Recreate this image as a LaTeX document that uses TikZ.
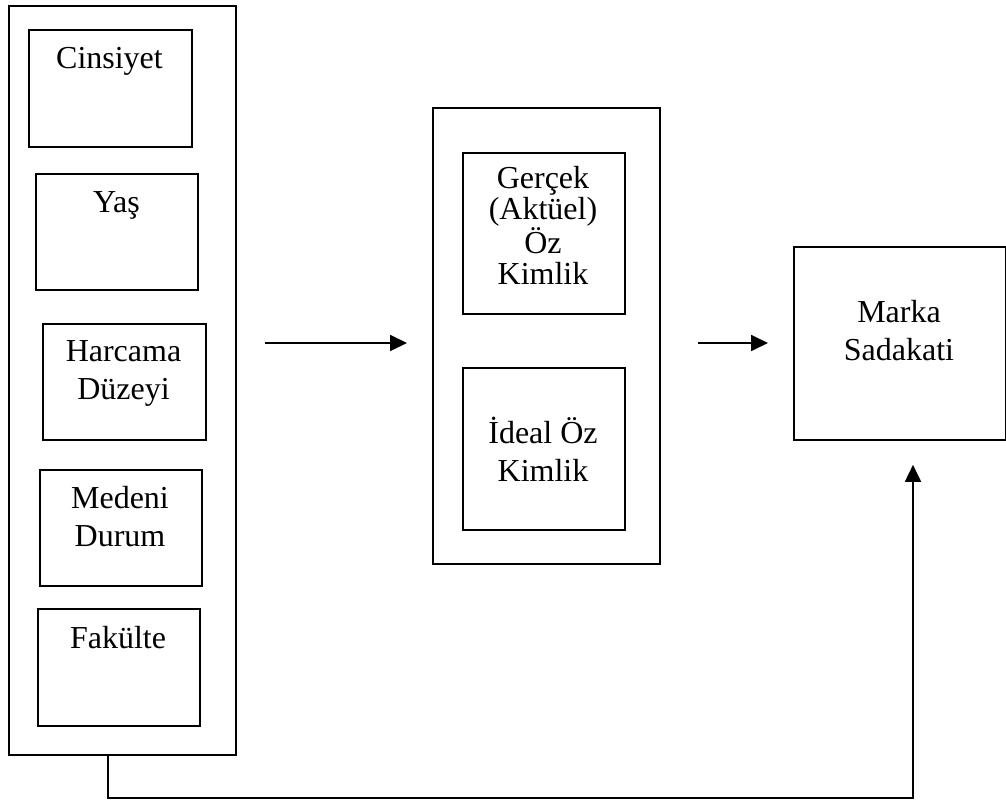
\documentclass[tikz,border=0pt]{standalone}
\usepackage{fontspec}
\setmainfont{Liberation Serif}
\usetikzlibrary{arrows.meta}
\begin{document}
\begin{tikzpicture}[x=1pt,y=-1pt,
  frame/.style={draw=black, line width=1.8pt, rectangle, inner sep=0pt, anchor=north west},
  lbl/.style={anchor=base, inner sep=0pt, align=center,
    font=\fontsize{32}{37.5}\selectfont},
  conn/.style={line width=1.8pt, -{Triangle[length=17pt,width=16pt]}}]
\useasboundingbox (0,0) rectangle (1006,802);

% left column: demographic variables
\node[frame, minimum width=227pt, minimum height=749pt] (demo) at (8,5) {};
\node[frame, minimum width=163pt, minimum height=117pt] (cins) at (28,29) {};
\node[frame, minimum width=162pt, minimum height=116pt] (yas) at (35,173) {};
\node[frame, minimum width=163pt, minimum height=116pt] (harc) at (42,323) {};
\node[frame, minimum width=162pt, minimum height=116pt] (med) at (39,469) {};
\node[frame, minimum width=162pt, minimum height=117pt] (fak) at (37,608) {};
% labels are placed by the baseline of their last line
\node[lbl] (tcins) at (109.5,69) {Cinsiyet};
\node[lbl] (tyas) at (116.5,213) {Yaş};
\node[lbl] (tharc) at (123.5,399) {Harcama\\Düzeyi};
\node[lbl] (tmed) at (120,546) {Medeni\\Durum};
\node[lbl] (tfak) at (118,648) {Fakülte};

% middle column: self identity
\node[frame, minimum width=227pt, minimum height=456pt] (self) at (432,107) {};
\node[frame, minimum width=162pt, minimum height=161pt] (real) at (462,152) {};
\node[frame, minimum width=162pt, minimum height=162pt] (ideal) at (462,367) {};
\node[lbl, font=\fontsize{32}{30.7}\selectfont] (treal) at (543,284) {Gerçek\\(Aktüel)\\Öz\\Kimlik};
\node[lbl] (tideal) at (543,481) {İdeal Öz\\Kimlik};

% right: brand loyalty
\node[frame, minimum width=212pt, minimum height=193pt] (marka) at (793,246) {};
\node[lbl] (tmarka) at (899,360) {Marka\\Sadakati};

% connectors
\coordinate (ya) at (0,343);
\draw[conn, shorten <=28pt, shorten >=25pt] (demo.east |- ya) -- (self.west |- ya);
\draw[conn, shorten <=37pt, shorten >=25pt] (self.east |- ya) -- (marka.west |- ya);
\coordinate (c1) at (108,798);
\coordinate (c2) at (913,798);
\draw[conn, shorten >=24pt] (demo.south -| c1) -- (c1) -- (c2) -- (c2 |- marka.south);
\end{tikzpicture}
\end{document}
